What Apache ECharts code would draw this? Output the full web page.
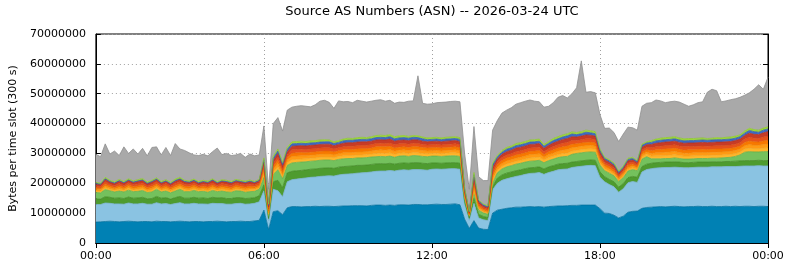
<!DOCTYPE html>
<html>
<head>
<meta charset="utf-8">
<title>Source AS Numbers (ASN)</title>
<script src="https://cdn.jsdelivr.net/npm/echarts@6/dist/echarts.min.js"></script>
<style>
  html, body { margin: 0; padding: 0; background: #fff; }
  #main { width: 790px; height: 267px; }
</style>
</head>
<body>
<div id="main"></div>
<script>
// time slots: one every 10 minutes, 00:00 .. 24:00
const slots = [];
for (let i = 0; i <= 144; i++) {
  const m = i * 10;
  slots.push(String(Math.floor(m / 60)).padStart(2, '0') + ':' + String(m % 60).padStart(2, '0'));
}

// layer values in millions of bytes per 300 s slot, bottom layer first
const darkBlue = [
  7.0,7.1,7.2,7.3,7.2,7.1,7.2,7.3,7.2,7.1,7.2,7.2,7.1,7.3,7.2,7.2,7.1,7.2,7.3,7.2,7.1,7.2,7.2,7.1,7.2,7.2,7.3,7.2,7.1,7.2,7.2,7.3,7.2,7.2,7.4,7.6,
  11.0,4.5,10.5,10.8,9.5,11.8,
  12.2,12.2,12.1,12.2,12.2,12.3,12.2,12.3,12.3,12.2,12.3,12.4,12.4,12.5,12.5,12.5,12.4,12.6,12.7,12.7,12.6,12.7,12.6,12.8,12.8,12.7,12.9,12.9,12.8,12.8,12.9,13.0,12.9,12.9,13.0,13.1,12.8,
  8.0,4.9,7.5,5.0,4.6,4.5,10.0,11.0,
  11.3,11.6,11.8,12.0,12.0,12.1,12.2,12.1,12.2,12.0,12.2,12.3,12.4,12.4,12.5,12.6,12.6,12.7,12.7,12.7,12.7,
  11.5,10.0,9.9,9.3,8.4,9.0,10.3,10.6,10.7,11.6,11.9,
  12.0,12.1,12.2,12.1,12.2,12.3,12.2,12.1,12.2,12.2,12.3,12.2,12.2,12.3,12.2,12.2,12.3,12.2,12.3,12.2,12.3,12.3,12.2,12.3,12.3,12.2
];
const lightBlue = [
  5.9,5.8,6.2,6.0,5.9,6.0,5.8,6.1,5.9,6.0,6.1,5.8,5.9,6.2,5.9,6.0,5.8,6.0,6.2,5.9,6.0,6.1,5.9,6.0,5.8,6.1,5.9,6.0,5.9,5.8,6.0,6.0,5.8,5.9,5.9,6.2,
  6.5,3.0,7.5,6.7,6.0,8.7,
  9.0,9.2,9.5,9.6,9.8,9.8,10.1,10.1,10.2,10.2,10.5,10.6,10.7,10.7,10.9,11.0,11.2,11.2,11.3,11.4,11.5,11.6,11.5,11.6,11.7,11.7,11.7,11.7,11.7,11.6,11.8,11.8,11.8,11.9,11.9,11.8,11.9,
  5.0,2.7,5.8,3.4,3.2,3.0,7.8,9.0,
  9.7,9.9,10.1,10.3,10.6,10.9,11.1,11.3,11.4,11.0,11.4,11.7,12.1,12.3,12.3,12.7,12.9,13.0,13.2,13.3,13.2,
  10.5,10.5,9.7,9.5,8.6,9.2,9.9,10.0,9.6,12.2,12.7,
  12.9,13.0,13.0,13.2,13.1,13.1,13.1,13.1,13.0,13.1,13.1,13.2,13.2,13.2,13.3,13.3,13.3,13.4,13.3,13.5,13.5,13.5,13.6,13.6,13.5,13.6
];
const darkGreen = [
  1.9,1.8,2.1,2.0,1.9,2.0,1.9,2.0,1.9,2.0,2.0,1.8,1.9,2.1,1.9,2.0,1.8,2.0,2.1,1.9,1.9,2.0,1.9,2.0,1.9,2.0,1.9,2.0,1.9,1.9,2.0,1.9,1.9,1.9,1.9,2.0,
  2.0,0.7,2.5,3.5,3.0,3.0,
  2.8,2.8,2.7,2.7,2.7,2.7,2.7,2.7,2.7,2.6,2.6,2.6,2.6,2.6,2.6,2.5,2.5,2.5,2.5,2.5,2.4,2.4,2.3,2.3,2.3,2.3,2.3,2.3,2.2,2.2,2.1,2.0,2.0,2.0,2.0,2.0,2.0,
  0.8,0.7,1.6,1.2,1.1,1.0,1.1,1.7,
  1.8,1.9,1.9,1.9,1.9,1.9,1.9,1.9,1.9,1.8,1.9,1.9,1.9,1.9,1.9,1.8,1.8,1.8,1.8,1.8,1.8,
  1.8,1.7,1.7,1.7,1.7,1.7,1.7,1.7,1.7,1.8,1.8,
  1.8,1.8,1.8,1.8,1.8,1.8,1.8,1.7,1.7,1.7,1.7,1.7,1.7,1.7,1.7,1.7,1.7,1.7,1.8,1.8,1.8,1.8,1.8,1.8,1.8,1.8
];
const lightGreen = [
  2.1,2.1,2.4,2.2,2.1,2.3,2.2,2.3,2.2,2.2,2.3,2.1,2.2,2.4,2.1,2.2,2.1,2.2,2.4,2.2,2.2,2.3,2.2,2.2,2.1,2.3,2.1,2.2,2.2,2.1,2.3,2.2,2.1,2.2,2.1,2.2,
  2.5,0.8,2.5,3.5,3.0,2.5,
  2.8,2.8,2.8,2.7,2.7,2.7,2.7,2.7,2.6,2.6,2.6,2.6,2.6,2.5,2.5,2.5,2.5,2.5,2.4,2.4,2.4,2.4,2.3,2.4,2.4,2.3,2.4,2.3,2.3,2.3,2.3,2.3,2.3,2.3,2.3,2.3,2.3,
  1.2,0.7,1.7,1.4,1.2,1.1,1.1,1.8,
  2.0,2.1,2.1,2.2,2.2,2.2,2.2,2.2,2.2,2.1,2.1,2.2,2.2,2.3,2.3,2.6,2.7,2.7,2.7,2.7,2.7,
  2.3,2.0,2.1,2.0,1.9,2.0,2.2,2.3,2.2,2.5,2.5,
  1.5,1.3,1.2,1.2,1.2,1.3,1.2,1.2,1.2,1.2,1.2,1.2,1.2,1.2,1.2,1.3,1.3,1.4,1.6,2.0,2.8,3.0,2.9,2.8,3.0,3.0
];
const amber = [
  0.5,0.5,0.6,0.5,0.5,0.6,0.5,0.6,0.5,0.6,0.6,0.5,0.6,0.6,0.5,0.6,0.5,0.6,0.6,0.6,0.5,0.6,0.5,0.5,0.5,0.6,0.5,0.6,0.6,0.5,0.6,0.5,0.5,0.6,0.5,0.5,
  1.0,0.6,0.9,1.0,0.8,0.9,
  1.1,1.0,1.0,1.0,1.0,1.0,1.0,1.0,1.0,1.0,1.0,1.0,1.0,1.0,1.0,1.0,1.0,1.0,1.1,1.1,1.1,1.1,1.0,1.0,1.0,1.0,1.0,1.0,1.0,1.0,0.9,1.0,0.9,1.0,1.0,1.0,1.0,
  0.5,0.2,1.0,0.5,0.4,0.4,1.0,0.9,
  0.9,1.0,1.0,1.0,1.0,1.0,1.1,1.1,1.1,0.9,1.0,1.0,1.0,1.1,1.1,1.1,1.0,1.1,1.1,1.1,1.0,
  0.8,0.7,0.7,0.6,0.5,0.6,0.6,0.6,0.5,0.8,0.8,
  0.9,1.0,1.0,1.0,1.1,1.1,1.0,1.0,1.0,1.0,1.0,1.0,1.0,1.0,1.0,1.0,1.0,1.0,1.0,1.0,1.1,1.2,1.1,1.1,1.2,1.3
];
const orange = [
  0.5,0.5,0.6,0.5,0.5,0.6,0.5,0.6,0.5,0.6,0.6,0.5,0.6,0.6,0.5,0.6,0.5,0.6,0.6,0.6,0.5,0.6,0.5,0.6,0.6,0.6,0.5,0.6,0.6,0.5,0.6,0.5,0.6,0.6,0.5,0.5,
  1.0,0.6,0.9,1.1,0.8,0.9,
  1.1,1.1,1.1,1.0,1.0,1.0,1.0,1.0,1.0,0.9,0.9,1.0,1.0,1.0,1.0,1.0,1.0,1.0,1.1,1.1,1.1,1.1,1.0,1.0,1.0,1.0,1.0,1.0,1.0,0.9,0.9,0.9,0.9,0.9,0.9,1.0,0.9,
  0.5,0.2,1.1,0.5,0.4,0.4,1.0,0.9,
  0.9,1.0,1.0,1.0,1.0,1.0,1.1,1.1,1.1,0.9,1.0,1.0,1.1,1.1,1.2,1.1,1.1,1.1,1.1,1.1,1.0,
  0.8,0.7,0.7,0.6,0.5,0.6,0.6,0.6,0.5,0.7,0.7,
  0.9,1.0,1.0,1.1,1.1,1.1,1.0,1.0,1.0,1.0,1.0,1.0,1.0,1.0,1.0,1.0,1.0,1.0,1.0,1.0,1.1,1.2,1.1,1.1,1.2,1.3
];
const darkOrange = [
  0.5,0.5,0.6,0.6,0.5,0.6,0.6,0.6,0.6,0.6,0.6,0.6,0.6,0.6,0.6,0.6,0.6,0.6,0.6,0.6,0.6,0.6,0.5,0.6,0.6,0.6,0.5,0.6,0.6,0.6,0.6,0.6,0.6,0.6,0.5,0.5,
  1.0,0.6,0.9,1.1,0.8,0.9,
  1.1,1.1,1.1,1.0,1.0,1.0,1.0,1.0,1.0,1.0,1.0,1.0,1.0,1.0,1.0,1.1,1.0,1.0,1.1,1.1,1.1,1.1,1.1,1.0,1.0,1.0,1.0,1.0,1.0,1.0,1.0,1.0,1.0,1.0,1.0,1.0,1.0,
  0.5,0.2,1.1,0.5,0.5,0.4,1.0,0.9,
  1.0,1.0,1.0,1.1,1.1,1.1,1.1,1.1,1.1,0.9,1.0,1.1,1.1,1.1,1.2,1.2,1.1,1.1,1.1,1.1,1.1,
  0.8,0.7,0.7,0.7,0.5,0.6,0.7,0.6,0.5,0.8,0.8,
  0.9,1.0,1.1,1.1,1.1,1.1,1.1,1.0,1.1,1.0,1.0,1.1,1.0,1.0,1.1,1.0,1.0,1.0,1.0,1.0,1.1,1.2,1.2,1.1,1.2,1.3
];
const redOrange = [
  0.6,0.6,0.8,0.6,0.6,0.7,0.6,0.7,0.7,0.7,0.7,0.6,0.7,0.7,0.6,0.7,0.6,0.7,0.7,0.7,0.7,0.7,0.6,0.7,0.7,0.7,0.6,0.7,0.7,0.7,0.7,0.7,0.7,0.7,0.6,0.6,
  1.0,0.6,0.9,1.1,0.8,0.9,
  1.1,1.1,1.1,1.1,1.1,1.1,1.1,1.1,1.1,1.0,1.0,1.0,1.1,1.1,1.1,1.1,1.1,1.1,1.1,1.1,1.1,1.1,1.1,1.1,1.1,1.1,1.1,1.1,1.0,1.0,1.0,1.0,1.0,1.0,1.0,1.0,1.0,
  0.6,0.3,1.1,0.6,0.5,0.5,1.1,0.9,
  1.0,1.0,1.0,1.1,1.1,1.1,1.1,1.1,1.1,1.0,1.0,1.1,1.1,1.2,1.2,1.2,1.1,1.1,1.2,1.1,1.1,
  0.9,0.7,0.7,0.7,0.6,0.6,0.7,0.7,0.6,0.8,0.8,
  1.0,1.0,1.1,1.1,1.1,1.1,1.1,1.1,1.1,1.1,1.1,1.1,1.1,1.1,1.1,1.1,1.1,1.1,1.1,1.1,1.1,1.2,1.2,1.2,1.3,1.3
];
const darkRed = [
  0.7,0.6,0.8,0.7,0.7,0.8,0.7,0.7,0.7,0.8,0.8,0.7,0.8,0.7,0.7,0.7,0.7,0.8,0.8,0.7,0.7,0.7,0.7,0.7,0.7,0.8,0.7,0.7,0.8,0.7,0.7,0.7,0.7,0.8,0.7,0.7,
  1.1,0.7,1.0,1.2,1.0,1.0,
  1.2,1.2,1.2,1.2,1.2,1.2,1.2,1.2,1.2,1.1,1.1,1.2,1.2,1.2,1.2,1.2,1.2,1.2,1.2,1.2,1.2,1.3,1.2,1.2,1.2,1.2,1.2,1.2,1.1,1.1,1.1,1.1,1.1,1.1,1.1,1.1,1.1,
  0.6,0.3,1.2,0.6,0.5,0.5,1.2,1.0,
  1.1,1.1,1.2,1.2,1.2,1.2,1.2,1.2,1.2,1.1,1.1,1.2,1.2,1.3,1.3,1.3,1.2,1.2,1.3,1.2,1.2,
  1.0,0.8,0.8,0.8,0.6,0.7,0.8,0.7,0.6,0.9,0.9,
  1.1,1.2,1.2,1.2,1.2,1.2,1.2,1.2,1.2,1.2,1.2,1.2,1.2,1.2,1.2,1.2,1.2,1.2,1.2,1.2,1.2,1.4,1.3,1.3,1.4,1.5
];
const blue = [
  0.2,0.2,0.2,0.2,0.2,0.2,0.2,0.2,0.2,0.2,0.2,0.2,0.2,0.2,0.2,0.2,0.2,0.2,0.2,0.2,0.2,0.2,0.2,0.2,0.2,0.2,0.2,0.2,0.2,0.2,0.2,0.2,0.2,0.2,0.2,0.2,
  0.8,0.5,0.8,0.8,0.7,0.8,
  0.8,0.8,0.8,0.8,0.8,0.8,0.8,0.8,0.8,0.7,0.7,0.8,0.8,0.8,0.8,0.8,0.8,0.8,0.8,0.8,0.8,0.8,0.8,0.8,0.8,0.8,0.8,0.8,0.8,0.7,0.7,0.7,0.7,0.7,0.7,0.7,0.7,
  0.4,0.2,0.8,0.4,0.4,0.3,0.8,0.7,
  0.7,0.8,0.8,0.8,0.8,0.8,0.8,0.8,0.8,0.7,0.7,0.8,0.8,0.8,0.9,0.9,0.8,0.8,0.9,0.8,0.8,
  0.6,0.5,0.5,0.5,0.4,0.4,0.5,0.5,0.4,0.6,0.6,
  0.7,0.8,0.8,0.8,0.8,0.8,0.8,0.8,0.8,0.8,0.8,0.8,0.8,0.8,0.8,0.8,0.8,0.8,0.8,0.8,0.8,0.9,0.9,0.8,0.9,0.9
];
const yellowGreen = [
  0.4,0.3,0.5,0.4,0.4,0.4,0.4,0.4,0.4,0.4,0.5,0.4,0.4,0.4,0.4,0.4,0.4,0.5,0.5,0.4,0.4,0.4,0.4,0.4,0.4,0.4,0.3,0.4,0.4,0.4,0.4,0.4,0.4,0.4,0.3,0.3,
  0.6,0.4,0.6,0.7,0.6,0.6,
  0.7,0.7,0.7,0.7,0.7,0.7,0.7,0.7,0.6,0.6,0.6,0.6,0.7,0.6,0.7,0.7,0.6,0.7,0.7,0.7,0.7,0.7,0.7,0.7,0.7,0.6,0.6,0.6,0.6,0.6,0.6,0.6,0.6,0.6,0.6,0.6,0.6,
  0.4,0.1,0.7,0.3,0.3,0.3,0.6,0.5,
  0.6,0.6,0.6,0.7,0.7,0.7,0.7,0.7,0.7,0.6,0.6,0.7,0.7,0.7,0.7,0.7,0.7,0.7,0.7,0.7,0.7,
  0.5,0.4,0.4,0.4,0.4,0.4,0.4,0.4,0.3,0.4,0.4,
  0.6,0.6,0.7,0.7,0.7,0.7,0.7,0.7,0.7,0.7,0.7,0.7,0.6,0.6,0.7,0.6,0.7,0.7,0.7,0.6,0.7,0.7,0.7,0.7,0.7,0.7
];
const other = [
  9.4,8.9,11.2,8.8,10.3,8.0,11.6,8.5,10.7,8.6,10.1,8.8,11.0,10.4,8.9,10.8,9.0,11.9,9.5,10.0,9.4,8.1,8.7,8.7,8.5,9.1,11.3,8.4,9.0,8.7,8.2,9.0,8.0,8.7,8.6,8.2,
  10.7,5.0,11.0,10.5,10.5,12.5,
  11.6,11.8,11.9,11.8,11.4,12.0,13.0,13.2,12.6,11.2,13.3,12.5,12.3,12.0,12.5,12.1,11.9,11.9,11.8,11.9,11.5,11.5,11.2,11.3,11.1,11.8,11.6,20.1,11.3,11.3,11.3,11.6,11.9,11.8,11.9,11.9,12.0,
  11.5,7.5,15.4,7.8,7.8,8.5,11.1,11.7,
  12.5,12.5,12.8,13.2,13.4,13.5,13.4,12.9,12.5,12.5,11.8,12.0,13.2,13.2,12.0,12.8,15.0,23.7,12.7,13.1,13.0,
  11.5,9.7,10.6,10.2,9.9,10.7,10.4,9.9,10.2,12.7,12.9,
  12.7,13.1,12.5,11.7,11.9,11.9,12.0,11.6,10.8,11.3,11.9,12.1,15.5,16.4,15.7,12.1,12.2,12.5,12.5,12.6,12.0,11.9,13.5,15.2,13.0,16.6
];

const layers = [
  { name: 'AS 1', values: darkBlue,    fill: '#0081b4', edge: '#00709d' },
  { name: 'AS 2', values: lightBlue,   fill: '#8ac3e2', edge: '#78b2d3' },
  { name: 'AS 3', values: darkGreen,   fill: '#4e9b2f', edge: '#428a26' },
  { name: 'AS 4', values: lightGreen,  fill: '#74c15d', edge: '#63b04d' },
  { name: 'AS 5', values: amber,       fill: '#ffb52b', edge: '#f0a520' },
  { name: 'AS 6', values: orange,      fill: '#ff9a14', edge: '#f08a0a' },
  { name: 'AS 7', values: darkOrange,  fill: '#f77800', edge: '#e56a00' },
  { name: 'AS 8', values: redOrange,   fill: '#e6521c', edge: '#d44615' },
  { name: 'AS 9', values: darkRed,     fill: '#c63b27', edge: '#b3311f' },
  { name: 'AS 10', values: blue,       fill: '#3d6bc4', edge: '#325cb0' },
  { name: 'AS 11', values: yellowGreen, fill: '#9dd63b', edge: '#8cc52e' },
  { name: 'Other', values: other,      fill: '#a9a9a9', edge: '#8f8f8f' }
];

layers.forEach(l => {
  if (l.values.length !== slots.length) throw new Error(l.name + ' has ' + l.values.length + ' values');
});

const FONT = 'DejaVu Sans';
const every6h = (i) => i % 36 === 0;

const chart = echarts.init(document.getElementById('main'), null, { renderer: 'canvas' });
chart.setOption({
  animation: false,
  backgroundColor: '#fff',
  textStyle: { fontFamily: FONT },
  graphic: [{
    type: 'text', x: 432, y: 12,
    style: { text: 'Source AS Numbers (ASN) -- 2026-03-24 UTC', font: '13px "DejaVu Sans"', fill: '#000', align: 'center', verticalAlign: 'middle' }
  }],
  grid: { left: 95, right: 22, top: 34, bottom: 24, show: true, borderColor: '#000', borderWidth: 1, backgroundColor: 'transparent' },
  xAxis: [{
    type: 'category', data: slots, boundaryGap: false,
    axisLine: { show: true, lineStyle: { color: '#000' } },
    axisTick: { show: true, inside: true, length: 5, interval: every6h, lineStyle: { color: '#000' } },
    axisLabel: { color: '#000', fontSize: 11, fontFamily: FONT, margin: 8, interval: every6h,
                 formatter: v => (v === '24:00' ? '00:00' : v) },
    splitLine: { show: true, interval: every6h, lineStyle: { color: '#a0a0a0', type: [1, 3], width: 1 } }
  }, {
    type: 'category', data: slots, boundaryGap: false, position: 'top',
    axisLine: { show: true, lineStyle: { color: '#000' } },
    axisTick: { show: true, inside: true, length: 5, interval: every6h, lineStyle: { color: '#000' } },
    axisLabel: { show: false }, splitLine: { show: false }
  }],
  yAxis: [{
    type: 'value', min: 0, max: 70000000, interval: 10000000,
    name: 'Bytes per time slot (300 s)', nameLocation: 'middle', nameGap: 76,
    nameTextStyle: { color: '#000', fontSize: 11, fontFamily: FONT },
    axisLine: { show: true, lineStyle: { color: '#000' } },
    axisTick: { show: true, inside: true, length: 5, lineStyle: { color: '#000' } },
    axisLabel: { color: '#000', fontSize: 11, fontFamily: FONT, margin: 10, formatter: v => String(v) },
    splitLine: { show: true, lineStyle: { color: '#a0a0a0', type: [1, 3], width: 1 } }
  }, {
    type: 'value', position: 'right', min: 0, max: 70000000, interval: 10000000,
    axisLine: { show: true, lineStyle: { color: '#000' } },
    axisTick: { show: true, inside: true, length: 5, lineStyle: { color: '#000' } },
    axisLabel: { show: false }, splitLine: { show: false }
  }],
  series: layers.map(l => ({
    name: l.name,
    type: 'line',
    stack: 'bytes',
    xAxisIndex: 0,
    yAxisIndex: 0,
    symbol: 'none',
    data: l.values.map(v => v * 1e6),
    lineStyle: { width: 0.8, color: l.edge },
    itemStyle: { color: l.fill },
    areaStyle: { color: l.fill, opacity: 1 }
  }))
});
</script>
</body>
</html>
